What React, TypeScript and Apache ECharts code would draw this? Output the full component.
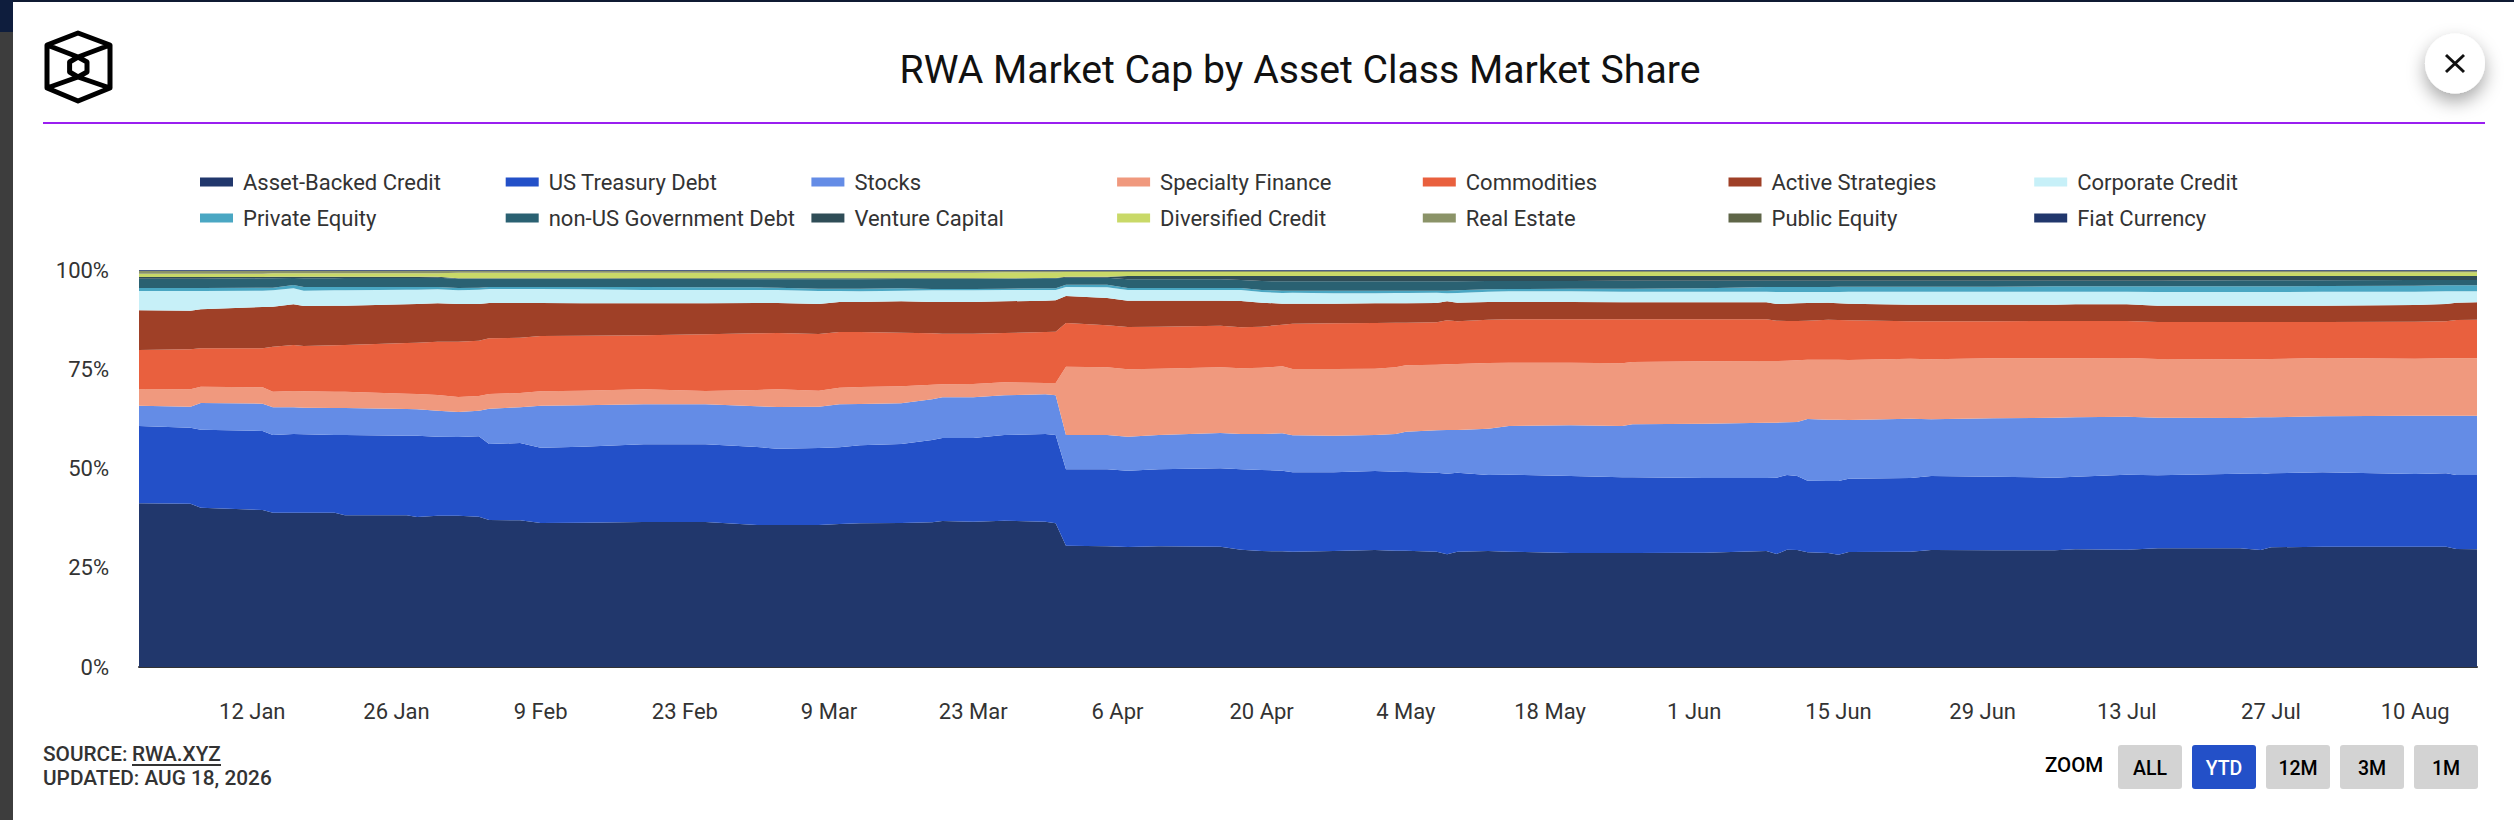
import React, { useEffect, useRef } from "react";
import * as echarts from "echarts";

const FONT = "Roboto";
const TITLE = "RWA Market Cap by Asset Class Market Share";

const seriesNames = ["Asset-Backed Credit", "US Treasury Debt", "Stocks", "Specialty Finance", "Commodities", "Active Strategies", "Corporate Credit", "Private Equity", "non-US Government Debt", "Venture Capital", "Diversified Credit", "Real Estate", "Public Equity", "Fiat Currency"];
const seriesColors = ["#21376c", "#2350c8", "#648ce6", "#f0997e", "#e9603e", "#9f4027", "#c7f0f8", "#4aa7c3", "#2a6172", "#2f4d57", "#c9d968", "#8b9368", "#5f6648", "#21376c"];

// Days since 1 Jan 2026 at which the curves were read.
const sampleDays = [0, 5, 6, 12, 13, 15, 16, 19, 20, 26, 27, 29, 31, 33, 34, 37, 39, 43, 49, 55, 60, 62, 66, 68, 70, 74, 77, 78, 81, 84, 88, 89, 90, 94, 96, 99, 105, 107, 109, 111, 112, 116, 120, 122, 123, 126, 127, 128, 131, 133, 139, 144, 145, 152, 158, 159, 160, 161, 162, 164, 165, 166, 172, 174, 180, 186, 188, 193, 196, 204, 206, 207, 212, 221, 224, 225, 227];

// Relative sizes; each date is normalised to 100% below.
const assetBacked = [491, 490, 478, 471, 463, 463, 463, 463, 455, 455, 450, 454, 454, 451, 441, 440, 432, 433, 435, 435, 426, 426, 426, 429, 431, 432, 434, 438, 436, 439, 436, 431, 364, 362, 360, 362, 361, 352, 348, 347, 346, 348, 351, 349, 349, 346, 338, 346, 348, 346, 342, 342, 342, 343, 348, 339, 352, 351, 344, 342, 337, 345, 346, 351, 350, 350, 353, 352, 356, 356, 351, 359, 361, 361, 361, 354, 353];
const usTreasury = [232, 228, 234, 237, 233, 236, 235, 233, 241, 239, 244, 237, 236, 241, 228, 232, 226, 228, 233, 233, 234, 229, 231, 230, 234, 237, 247, 249, 251, 257, 263, 265, 229, 231, 229, 231, 235, 241, 243, 242, 238, 236, 237, 237, 236, 237, 242, 237, 228, 231, 231, 227, 227, 224, 219, 229, 224, 222, 215, 216, 221, 220, 221, 222, 221, 218, 218, 225, 219, 224, 228, 222, 223, 218, 220, 222, 223];
const stocks = [61, 63, 80, 82, 83, 80, 80, 81, 81, 80, 79, 78, 75, 77, 106, 107, 126, 124, 120, 120, 122, 125, 124, 129, 124, 122, 122, 122, 122, 119, 119, 119, 103, 103, 102, 103, 106, 106, 108, 112, 111, 110, 108, 113, 121, 127, 131, 128, 139, 146, 152, 154, 159, 163, 166, 165, 158, 162, 185, 184, 184, 176, 178, 170, 175, 180, 178, 174, 173, 167, 170, 168, 168, 175, 173, 178, 178];
const specialtyFinance = [50, 52, 49, 49, 47, 49, 49, 49, 49, 46, 46, 47, 45, 44, 44, 43, 43, 44, 45, 40, 49, 53, 48, 50, 51, 51, 44, 39, 40, 39, 34, 37, 205, 203, 202, 199, 197, 197, 199, 201, 199, 200, 199, 200, 199, 197, 197, 198, 197, 190, 188, 188, 187, 187, 185, 185, 185, 185, 178, 180, 180, 180, 180, 180, 180, 178, 177, 176, 176, 176, 174, 175, 175, 171, 172, 172, 172];
const commodities = [117, 120, 115, 117, 135, 138, 136, 139, 140, 152, 154, 160, 166, 166, 167, 166, 166, 165, 162, 170, 170, 169, 170, 167, 165, 161, 154, 152, 151, 148, 153, 154, 131, 126, 127, 126, 125, 123, 123, 125, 136, 137, 137, 134, 128, 127, 132, 128, 130, 130, 130, 132, 128, 126, 125, 121, 119, 118, 117, 120, 119, 119, 112, 114, 111, 112, 112, 111, 111, 112, 112, 111, 108, 111, 111, 115, 116];
const activeStrategies = [119, 116, 117, 124, 120, 122, 120, 119, 118, 116, 116, 115, 113, 110, 106, 104, 99, 97, 96, 93, 91, 90, 90, 90, 90, 94, 94, 95, 95, 95, 94, 94, 81, 82, 79, 78, 75, 79, 72, 63, 60, 59, 59, 58, 58, 58, 57, 56, 53, 52, 52, 51, 51, 51, 51, 50, 52, 53, 53, 51, 50, 50, 50, 50, 50, 49, 50, 50, 49, 49, 49, 49, 49, 50, 52, 52, 52];
const corporateCredit = [58, 59, 55, 49, 49, 48, 46, 46, 46, 44, 43, 42, 41, 43, 42, 42, 42, 42, 40, 40, 39, 39, 39, 33, 32, 32, 35, 35, 35, 34, 32, 31, 27, 32, 32, 32, 32, 33, 32, 32, 33, 31, 30, 31, 31, 31, 24, 29, 31, 32, 32, 32, 32, 32, 32, 36, 35, 34, 33, 32, 34, 36, 39, 39, 39, 39, 38, 38, 41, 41, 41, 41, 42, 40, 38, 34, 33];
const privateEquity = [9, 9, 9, 9, 8, 10, 11, 10, 10, 8, 8, 7, 7, 6, 6, 6, 6, 7, 9, 8, 8, 7, 7, 7, 8, 7, 4, 4, 4, 4, 5, 5, 7, 8, 6, 6, 6, 6, 6, 7, 6, 8, 8, 7, 7, 6, 8, 8, 7, 7, 8, 9, 9, 10, 14, 15, 15, 15, 15, 15, 16, 15, 15, 15, 15, 16, 16, 16, 17, 17, 17, 17, 17, 18, 18, 18, 18];
const nonUsGovDebt = [28, 28, 28, 28, 28, 21, 26, 26, 27, 27, 27, 28, 28, 27, 25, 25, 25, 25, 24, 25, 24, 25, 28, 28, 28, 28, 30, 30, 30, 30, 30, 30, 21, 21, 26, 26, 26, 24, 27, 28, 28, 28, 28, 28, 28, 28, 28, 27, 25, 24, 23, 24, 24, 23, 19, 19, 19, 19, 19, 19, 18, 18, 18, 18, 18, 17, 17, 17, 17, 18, 18, 18, 17, 17, 16, 16, 16];
const ventureCapital = [5, 5, 5, 4, 5, 4, 5, 5, 4, 4, 4, 3, 1, 1, 1, 1, 1, 1, 2, 2, 3, 3, 3, 3, 3, 2, 2, 2, 2, 1, 1, 1, 3, 3, 10, 10, 10, 12, 15, 16, 16, 16, 16, 16, 16, 16, 16, 16, 15, 15, 15, 14, 14, 14, 14, 14, 14, 14, 14, 14, 14, 14, 14, 14, 14, 14, 14, 14, 14, 13, 13, 13, 13, 12, 12, 12, 12];
const diversifiedCredit = [10, 10, 10, 10, 10, 10, 10, 10, 10, 10, 10, 10, 17, 17, 17, 17, 17, 17, 17, 17, 17, 17, 17, 17, 17, 17, 17, 17, 17, 18, 17, 17, 14, 14, 12, 12, 12, 12, 12, 12, 12, 12, 12, 12, 12, 12, 12, 12, 12, 12, 12, 12, 12, 11, 11, 11, 11, 11, 11, 11, 11, 11, 11, 11, 11, 11, 11, 11, 11, 11, 11, 11, 11, 11, 11, 11, 11];
const realEstate = [8, 8, 8, 8, 7, 7, 7, 7, 7, 7, 7, 7, 5, 5, 5, 5, 5, 5, 5, 5, 5, 5, 5, 5, 5, 5, 5, 5, 5, 4, 4, 4, 3, 3, 3, 3, 3, 3, 3, 3, 3, 3, 3, 3, 3, 3, 3, 3, 3, 3, 3, 3, 3, 4, 4, 4, 4, 4, 4, 4, 4, 4, 4, 4, 4, 4, 4, 4, 4, 4, 4, 4, 4, 4, 4, 4, 4];
const publicEquity = [1, 1, 1, 1, 1, 1, 1, 1, 1, 1, 1, 1, 1, 1, 1, 1, 1, 1, 1, 1, 1, 1, 1, 1, 1, 1, 1, 1, 1, 1, 1, 1, 1, 1, 1, 1, 1, 1, 1, 1, 1, 1, 1, 1, 1, 1, 1, 1, 1, 1, 1, 1, 1, 1, 1, 1, 1, 1, 1, 1, 1, 1, 1, 1, 1, 1, 1, 1, 1, 1, 1, 1, 1, 1, 1, 1, 1];
const fiatCurrency = [2, 2, 2, 2, 2, 2, 2, 2, 2, 2, 2, 2, 2, 2, 2, 2, 2, 2, 2, 2, 2, 2, 2, 2, 2, 2, 2, 2, 2, 2, 2, 2, 2, 2, 2, 2, 2, 2, 2, 2, 2, 2, 2, 2, 2, 2, 2, 2, 2, 2, 2, 2, 2, 2, 2, 2, 2, 2, 2, 2, 2, 2, 2, 2, 2, 2, 2, 2, 2, 2, 2, 2, 2, 2, 2, 2, 2];
const allValues = [assetBacked, usTreasury, stocks, specialtyFinance, commodities, activeStrategies, corporateCredit, privateEquity, nonUsGovDebt, ventureCapital, diversifiedCredit, realEstate, publicEquity, fiatCurrency];

const tickDays = [11, 25, 39, 53, 67, 81, 95, 109, 123, 137, 151, 165, 179, 193, 207, 221];
const tickLabels = ["12 Jan", "26 Jan", "9 Feb", "23 Feb", "9 Mar", "23 Mar", "6 Apr", "20 Apr", "4 May", "18 May", "1 Jun", "15 Jun", "29 Jun", "13 Jul", "27 Jul", "10 Aug"];
const zoomButtons = ["ALL", "YTD", "12M", "3M", "1M"];

const dayMs = (d: number) => Date.UTC(2026, 0, 1 + d);
const LOGO = "M78 33L110 45L110 88L78 101L47 88L47 45ZM47 45L78 57L110 45M47 88L78 77L110 88M78 57L87 62L87 72L78 77L69.6 72L69.6 62Z";
echarts.graphic.registerShape("rwaLogo", echarts.graphic.extendPath(LOGO, {}));

export default function App() {
  const ref = useRef<HTMLDivElement>(null);
  useEffect(() => {
    document.body.style.margin = "0";
    const chart = echarts.init(ref.current!, undefined, { renderer: "svg" });
    const totals = sampleDays.map((_, i) => allValues.reduce((s, a) => s + a[i], 0));
    const labelByDay = new Map(tickDays.map((d, i) => [d, tickLabels[i]]));
    const txt = (text: string, x: number, y: number, fontSize: number, fill: string, fontWeight = 400, align = "left") => ({
      type: "text", x, y, silent: true,
      style: { text, fontFamily: FONT, fontSize, fontWeight, fill, align, verticalAlign: "middle" },
    });
    const graphics: any[] = [
      { type: "rect", shape: { x: 0, y: 0, width: 2514, height: 2 }, style: { fill: "#0f1a33" } },
      { type: "rect", shape: { x: 0, y: 0, width: 13, height: 32 }, style: { fill: "#0e1d3d" } },
      { type: "rect", shape: { x: 0, y: 32, width: 13, height: 788 }, style: { fill: "#3d3d3d" } },
      { type: "rwaLogo", x: 0, y: 0, style: { fill: "none", stroke: "#000", lineWidth: 5, lineJoin: "round" } },
      txt(TITLE, 1300, 70, 39.2, "#111", 400, "center"),
      { type: "rect", shape: { x: 43, y: 122, width: 2442, height: 2 }, style: { fill: "#9a1ff0" } },
      { type: "circle", shape: { cx: 2455, cy: 63.5, r: 30 }, style: { fill: "#fff", shadowBlur: 18, shadowOffsetY: 8, shadowColor: "rgba(0,0,0,0.35)" } },
      { type: "line", shape: { x1: 2446, y1: 55, x2: 2464, y2: 72 }, style: { stroke: "#111", lineWidth: 3 } },
      { type: "line", shape: { x1: 2464, y1: 55, x2: 2446, y2: 72 }, style: { stroke: "#111", lineWidth: 3 } },
      txt("SOURCE:", 43, 754, 20.8, "#333", 500),
      txt("RWA.XYZ", 132, 754, 20.8, "#333", 500),
      { type: "rect", shape: { x: 132, y: 764, width: 89, height: 2 }, style: { fill: "#333" } },
      txt("UPDATED: AUG 18, 2026", 43, 778, 20.8, "#333", 500),
      txt("ZOOM", 2045, 765, 20.5, "#000", 500),
    ];
    zoomButtons.forEach((b, i) => {
      const x = 2118 + i * 74;
      const active = b === "YTD";
      graphics.push({ type: "rect", shape: { x, y: 745, width: 64, height: 44, r: 3 }, style: { fill: active ? "#2350c8" : "#d3d3d3" } });
      graphics.push(txt(b, x + 32, 768, 19.5, active ? "#fff" : "#000", 500, "center"));
    });
    chart.setOption({
      animation: false,
      useUTC: true,
      backgroundColor: "#fff",
      grid: { left: 139, right: 37, top: 270, bottom: 153 },
      tooltip: { show: false },
      legend: seriesNames.map((name, i) => ({
        left: 200 + 305.7 * (i % 7),
        top: 171 + (i >= 7 ? 36 : 0),
        itemWidth: 33,
        itemHeight: 9,
        selectedMode: false,
        padding: 0,
        icon: "rect",
        data: [name],
        textStyle: { fontFamily: FONT, fontSize: 22, color: "#333", padding: [0, 0, 4, 5] },
      })),
      xAxis: [
        {
          type: "time",
          min: dayMs(0),
          max: dayMs(227),
          axisLine: { show: true, lineStyle: { color: "#333", width: 2 } },
          axisTick: { show: false },
          splitLine: { show: false },
          axisLabel: { show: false },
        },
        {
          type: "value",
          position: "bottom",
          min: 0,
          max: 227,
          axisLine: { show: false },
          axisTick: { show: false },
          splitLine: { show: false },
          axisLabel: {
            customValues: tickDays,
            formatter: (v: number) => labelByDay.get(v) ?? "",
            fontFamily: FONT, fontSize: 22, color: "#333", margin: 33, hideOverlap: false,
          },
        },
      ],
      yAxis: {
        type: "value", min: 0, max: 100, interval: 25,
        axisLine: { show: false }, axisTick: { show: false }, splitLine: { show: false },
        axisLabel: { formatter: "{value}%", fontFamily: FONT, fontSize: 22, color: "#333", margin: 30, padding: [6, 0, 0, 0] },
      },
      series: seriesNames.map((name, k) => ({
        name, type: "line", stack: "share", symbol: "none", showSymbol: false, xAxisIndex: 0,
        color: seriesColors[k],
        itemStyle: { color: seriesColors[k] },
        lineStyle: { width: 0 },
        areaStyle: { color: seriesColors[k], opacity: 1 },
        data: sampleDays.map((d, i) => [dayMs(d), (allValues[k][i] / totals[i]) * 100]),
      })),
      graphic: { elements: graphics },
    });
    return () => chart.dispose();
  }, []);
  return <div ref={ref} style={{ width: 2514, height: 820 }} />;
}
